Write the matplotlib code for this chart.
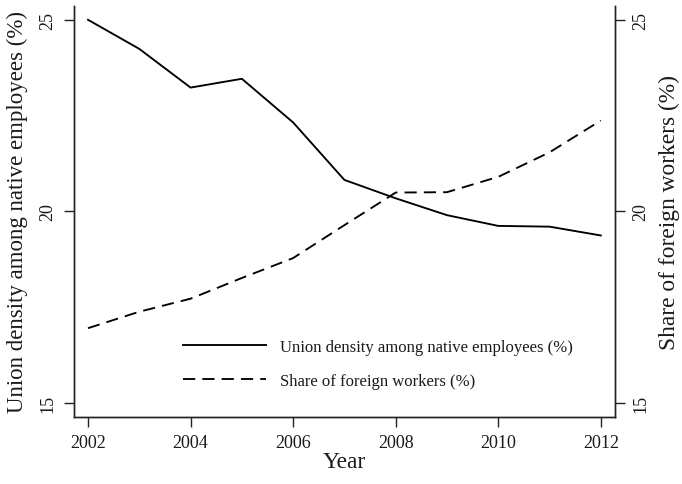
import matplotlib
matplotlib.use("Agg")
import matplotlib.pyplot as plt

plt.rcParams['font.family'] = ['Liberation Serif', 'DejaVu Serif']

years = [2002, 2003, 2004, 2005, 2006, 2007, 2008, 2009, 2010, 2011, 2012]
union_density = [25.0, 24.24, 23.23, 23.46, 22.32, 20.82, 20.34, 19.90, 19.62, 19.60, 19.37]
foreign_share = [16.95, 17.38, 17.72, 18.26, 18.78, 19.64, 20.49, 20.50, 20.90, 21.54, 22.37]

x_ticks = [2002, 2004, 2006, 2008, 2010, 2012]
y_ticks = [15, 20, 25]

label_union = "Union density among native employees (%)"
label_foreign = "Share of foreign workers (%)"

fig = plt.figure(figsize=(6.82, 4.85), dpi=100)
ax = fig.add_axes([0.108, 0.1388, 0.794, 0.8468])
ax2 = ax.twinx()

lw = 1.35
l1, = ax.plot(years, union_density, color='black', lw=lw, label=label_union)
l2, = ax2.plot(years, foreign_share, color='black', lw=lw,
               linestyle=(0, (6.5, 3.8)), label=label_foreign)

xlim = (2001.72, 2012.28)
ylim = (14.64, 25.36)
for a in (ax, ax2):
    a.set_xlim(*xlim)
    a.set_ylim(*ylim)
    a.set_yticks(y_ticks)
    a.spines['top'].set_visible(False)
    for s in a.spines.values():
        s.set_linewidth(1.0)
        s.set_color('#222222')
    a.tick_params(axis='both', direction='out', length=7, width=1.0,
                  labelsize=13, pad=5.5, colors='#222222', labelcolor='#1a1a1a')

ax.set_xticks(x_ticks)
ax.set_yticklabels([str(v) for v in y_ticks], rotation=90, va='center')
ax2.set_yticklabels([str(v) for v in y_ticks], rotation=90, va='center')

ax.set_xlabel("Year", fontsize=16.8, color='#1a1a1a')
ax.set_ylabel(label_union, fontsize=16.5, color='#1a1a1a')
ax2.set_ylabel(label_foreign, fontsize=16.8, rotation=90, color='#1a1a1a')
ax.xaxis.set_label_coords(0.5, -0.083)
ax.yaxis.set_label_coords(-0.085, 0.5)
ax2.yaxis.set_label_coords(1.081, 0.5)

fig.legend(handles=[l1, l2], loc='center left',
           bbox_to_anchor=(183 / 682, 1 - 365 / 485),
           frameon=False, fontsize=12, handlelength=5.0, handletextpad=0.8,
           labelspacing=1.05, borderpad=0, borderaxespad=0,
           labelcolor='#1a1a1a')

fig.savefig("out.png", dpi=100)
